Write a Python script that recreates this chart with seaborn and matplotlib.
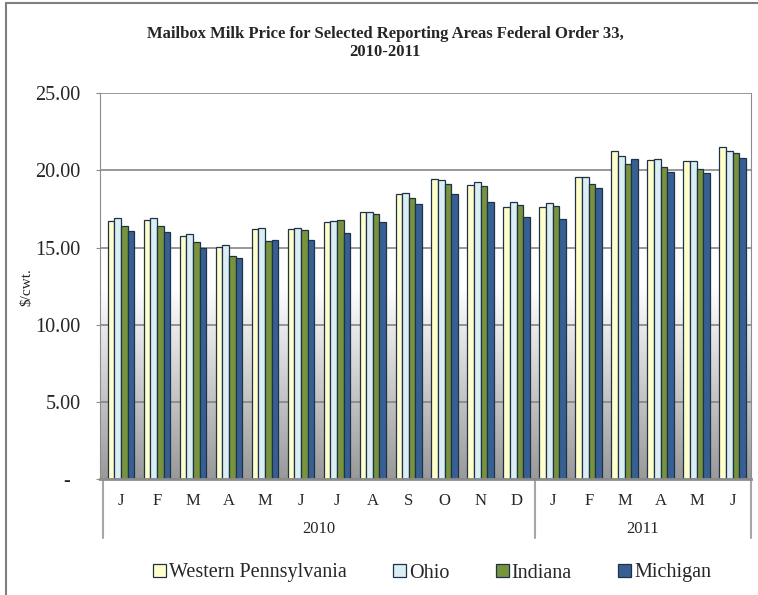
import numpy as np
import pandas as pd
import matplotlib
matplotlib.use("Agg")
import matplotlib.pyplot as plt
import matplotlib.transforms as mtransforms
from matplotlib.ticker import FuncFormatter
import seaborn as sns

# Data ($/cwt.)
periods = ["Jan10", "Feb10", "Mar10", "Apr10", "May10", "Jun10", "Jul10", "Aug10",
           "Sep10", "Oct10", "Nov10", "Dec10", "Jan11", "Feb11", "Mar11", "Apr11",
           "May11", "Jun11"]
month_letters = ["J", "F", "M", "A", "M", "J", "J", "A", "S", "O", "N", "D",
                 "J", "F", "M", "A", "M", "J"]
years = ["2010", "2011"]
year_spans = [(0, 11), (12, 17)]
areas = ["Western Pennsylvania", "Ohio", "Indiana", "Michigan"]

western_pa = [16.75, 16.78, 15.78, 15.04, 16.20, 16.20, 16.68, 17.28, 18.49, 19.42,
              19.03, 17.63, 17.65, 19.57, 21.25, 20.67, 20.63, 21.50]
ohio = [16.90, 16.90, 15.90, 15.19, 16.25, 16.27, 16.70, 17.32, 18.53, 19.40,
        19.22, 17.97, 17.88, 19.55, 20.95, 20.71, 20.63, 21.27]
indiana = [16.40, 16.40, 15.39, 14.48, 15.43, 16.12, 16.78, 17.15, 18.20, 19.10,
           18.96, 17.77, 17.67, 19.14, 20.43, 20.24, 20.11, 21.14]
michigan = [16.07, 16.03, 15.00, 14.35, 15.47, 15.47, 15.92, 16.63, 17.80, 18.45,
            17.93, 16.97, 16.88, 18.88, 20.76, 19.87, 19.85, 20.78]

colors = ["#FFFFCC", "#DBEEF4", "#77933C", "#376092"]

df = pd.DataFrame({"period": periods * 4,
                   "area": np.repeat(areas, len(periods)),
                   "price": western_pa + ohio + indiana + michigan})

sns.set_style("white")
plt.rcParams["font.family"] = ["Liberation Serif", "DejaVu Serif"]

fig = plt.figure(figsize=(7.58, 5.95), dpi=100)
ax = fig.add_axes([100 / 758, 1 - 479 / 595, 650.6 / 758, 385.7 / 595])

x_lo, x_hi = -0.5 - 3 / 35.96, 17.5

# gradient plot area background
grad_t = np.linspace(0, 1, 256)
shade = np.clip(0.6 + 0.8 * grad_t, 0, 1)
ax.imshow(shade[::-1].reshape(-1, 1), cmap="gray", vmin=0, vmax=1, aspect="auto",
          extent=[x_lo, x_hi, 0, 25], zorder=0, interpolation="bilinear")

sns.barplot(data=df, x="period", y="price", hue="area", order=periods,
            hue_order=areas, palette=colors, width=0.74, edgecolor="#1F324A",
            linewidth=0.9, saturation=1, ax=ax)

ax.set_xlim(x_lo, x_hi)
ax.set_ylim(0, 25)
ax.set_yticks([0, 5, 10, 15, 20, 25])
ax.yaxis.set_major_formatter(FuncFormatter(lambda v, p: "-  " if v == 0 else f"{v:.2f}"))
ax.grid(axis="y", color="#868686", linewidth=1.2)
ax.set_axisbelow(True)
ax.spines["top"].set_visible(False)
ax.spines["left"].set_color("#8C8C8C")
ax.spines["right"].set_color("#8C8C8C")
ax.spines["bottom"].set_color("#8C8C8C")
ax.spines["bottom"].set_linewidth(2)
ax.tick_params(axis="y", labelsize=14.5, length=3, color="#8C8C8C", pad=11, left=True)
ax.set_xticks(range(len(periods)))
ax.set_xticklabels(month_letters)
ax.tick_params(axis="x", labelsize=12, length=0, pad=10)
ax.set_xlabel("")
ax.set_ylabel("")
ax.get_legend().remove()

# two-level category axis: year labels and separators
trans = mtransforms.blended_transform_factory(ax.transData, ax.transAxes)
for xs in [-0.5, 11.5, 17.5]:
    ax.plot([xs, xs], [0, -59 / 385.7], transform=trans, color="#A6A6A6",
            linewidth=1.5, clip_on=False)
for yr, (a, b) in zip(years, year_spans):
    ax.text((a + b) / 2, -50 / 385.7, yr, transform=trans, ha="center", va="center",
            fontsize=12)

fig.text(27 / 758, 1 - 287 / 595, "\\$/cwt.", rotation=90, ha="center", va="center",
         fontsize=11)
fig.text(385 / 758, 1 - 43 / 595,
         "Mailbox Milk Price for Selected Reporting Areas Federal Order 33,\n2010-2011",
         ha="center", va="center", fontsize=12, fontweight="bold", linespacing=1.25)

handles, labels = ax.get_legend_handles_labels()
fig.legend(handles, labels, loc="center", bbox_to_anchor=(432 / 758, 1 - 573 / 595),
           ncol=4, frameon=False, fontsize=14.5, handlelength=0.65, handleheight=0.65,
           handletextpad=0.15, columnspacing=2.3)

# outer chart border
fig.patches.append(plt.Rectangle((6 / 758, -0.02), 1.05, 1 - 3 / 595 + 0.02,
                                 transform=fig.transFigure, fill=False,
                                 edgecolor="#7F7F7F", linewidth=1.5))

fig.savefig("out.png", dpi=100)
